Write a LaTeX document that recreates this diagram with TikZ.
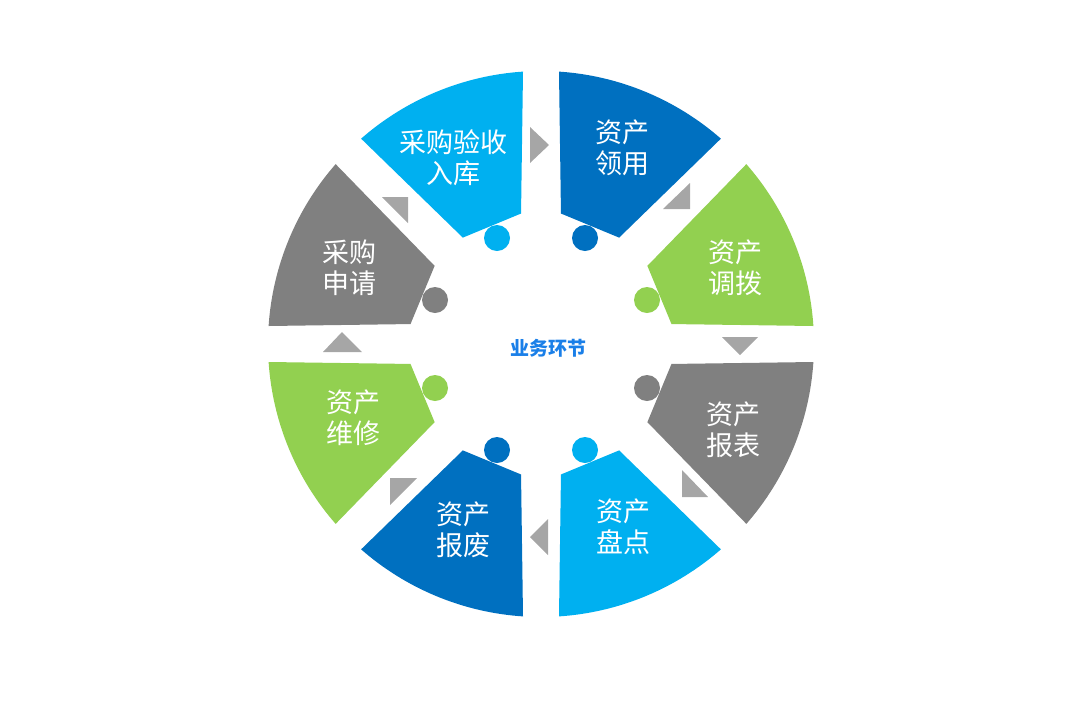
\documentclass[tikz,border=0pt]{standalone}
\usepackage{fontspec}
\newfontfamily\cjk{Noto Sans CJK SC}
\definecolor{lb}{HTML}{00B0F0}
\definecolor{db}{HTML}{0070C0}
\definecolor{gr}{HTML}{92D050}
\definecolor{gy}{HTML}{808080}
\definecolor{tri}{HTML}{A6A6A6}
\definecolor{ctr}{HTML}{1A7FE8}
\tikzset{
  seglabel/.style={text=white,font=\cjk\fontsize{27}{31}\selectfont,align=center,inner sep=0pt},
  arrowtri/.style={fill=tri},
  pics/wedge/.style={code={
    \fill[#1] (8.7:132) -- (3.78:273) arc[start angle=3.78,end angle=41.22,radius=273] -- (36.3:132) -- cycle;
    \fill[#1] (106,44) circle[radius=13];
  }}
}
\begin{document}
\begin{tikzpicture}[x=1pt,y=1pt]
\useasboundingbox (0,0) rectangle (1080,-721);
\begin{scope}[shift={(541,-344)}]
  \pic[rotate=90] {wedge=lb};
  \pic[rotate=90,yscale=-1] {wedge=db};
  \pic {wedge=gr};
  \pic[yscale=-1] {wedge=gy};
  \pic[rotate=-90] {wedge=lb};
  \pic[rotate=-90,yscale=-1] {wedge=db};
  \pic[rotate=180] {wedge=gr};
  \pic[rotate=180,yscale=-1] {wedge=gy};
\end{scope}
\node[seglabel] (s1) at (453,-158) {采购验收\\入库};
\node[seglabel] (s2) at (622,-148) {资产\\领用};
\node[seglabel] (s3) at (735,-268) {资产\\调拨};
\node[seglabel] (s4) at (733,-430) {资产\\报表};
\node[seglabel] (s5) at (623,-527) {资产\\盘点};
\node[seglabel] (s6) at (463,-530) {资产\\报废};
\node[seglabel] (s7) at (353,-418) {资产\\维修};
\node[seglabel] (s8) at (349,-268) {采购\\申请};
\node[text=ctr,font=\cjk\bfseries\fontsize{19}{22}\selectfont] (c) at (548,-348) {业务环节};
\fill[arrowtri] (530,-127) -- (549,-145) -- (530,-163) -- cycle;
\fill[arrowtri] (663,-209) -- (690,-209) -- (690,-183) -- cycle;
\fill[arrowtri] (722,-337) -- (758,-337) -- (740,-355) -- cycle;
\fill[arrowtri] (682,-470) -- (682,-497) -- (708,-497) -- cycle;
\fill[arrowtri] (548,-519) -- (548,-555) -- (530,-537) -- cycle;
\fill[arrowtri] (390,-478) -- (417,-478) -- (390,-505) -- cycle;
\fill[arrowtri] (323,-352) -- (362,-352) -- (342,-332) -- cycle;
\fill[arrowtri] (382,-197) -- (408,-197) -- (408,-223) -- cycle;
\end{tikzpicture}
\end{document}
